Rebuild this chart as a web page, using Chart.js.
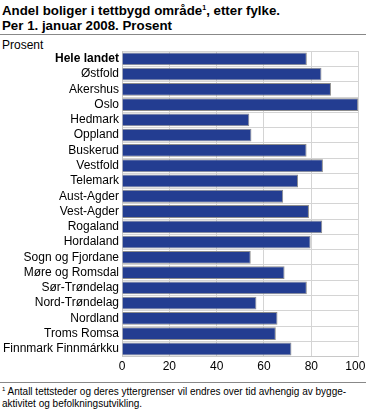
<!DOCTYPE html>
<html>
<head>
<meta charset="utf-8">
<script src="https://cdn.jsdelivr.net/npm/chart.js@4/dist/chart.umd.min.js"></script>
<style>
  body { margin: 0; width: 366px; height: 410px; background: #fff; font-family: "Liberation Sans", Arial, sans-serif; position: relative; overflow: hidden; }
  .title { position: absolute; left: 2px; top: 3px; font-size: 13.3px; font-weight: bold; line-height: 15px; color: #000; }
  .title sup { font-size: 7px; line-height: 0; }
  .rule { position: absolute; left: 0; width: 366px; height: 1px; background: #888; }
  .unit { position: absolute; left: 2px; top: 38px; font-size: 12px; color: #000; }
  .note { position: absolute; left: 2px; top: 386px; font-size: 10px; line-height: 12px; color: #000; }
  .note sup { font-size: 6px; line-height: 0; }
  #wrap { position: absolute; left: 0; top: 41px; width: 375px; height: 336px; }
</style>
</head>
<body>
<div class="title">Andel boliger i tettbygd område<sup>1</sup>, etter fylke.<br>Per 1. januar 2008. Prosent</div>
<div class="rule" style="top:34px"></div>
<div class="unit">Prosent</div>
<div id="wrap"><canvas id="chart"></canvas></div>
<div class="rule" style="top:382px"></div>
<div class="note"><sup>1</sup> Antall tettsteder og deres yttergrenser vil endres over tid avhengig av bygge-<br>aktivitet og befolkningsutvikling.</div>
<script>
const fylker = ['Hele landet', 'Østfold', 'Akershus', 'Oslo', 'Hedmark', 'Oppland', 'Buskerud', 'Vestfold',
  'Telemark', 'Aust-Agder', 'Vest-Agder', 'Rogaland', 'Hordaland', 'Sogn og Fjordane', 'Møre og Romsdal',
  'Sør-Trøndelag', 'Nord-Trøndelag', 'Nordland', 'Troms Romsa', 'Finnmark Finnmárkku'];
const andel = [78.1, 84.3, 88.3, 99.8, 53.8, 54.7, 78.0, 84.9, 74.4, 68.1, 79.0, 84.6, 79.7, 54.4, 68.7,
  78.1, 56.8, 65.7, 65.0, 71.6];
const xTicks = [0, 20, 40, 60, 80, 100];

new Chart(document.getElementById('chart'), {
  type: 'bar',
  data: {
    labels: fylker,
    datasets: [{
      data: andel,
      backgroundColor: '#233d91',
      borderColor: '#8c8c8c',
      borderWidth: 1,
      barPercentage: 0.84,
      categoryPercentage: 1
    }]
  },
  options: {
    indexAxis: 'y',
    responsive: true,
    maintainAspectRatio: false,
    animation: false,
    layout: { padding: 0 },
    plugins: { legend: { display: false }, tooltip: { enabled: false } },
    scales: {
      x: {
        min: 0, max: 100,
        afterBuildTicks: s => { s.ticks = xTicks.map(v => ({ value: v })); },
        grid: { color: '#d4d4d4', drawTicks: false },
        border: { color: '#c8c8c8' },
        ticks: {
          color: '#000', padding: 3, font: { family: 'Liberation Sans', size: 12 },
          // keep the last label inside the window like the original
          callback: v => v === 100 ? '100\u2007' : String(v)
        }
      },
      y: {
        afterFit: s => { s.width = 122; },
        grid: { color: '#d4d4d4', drawTicks: false, offset: true },
        border: { color: '#c8c8c8' },
        ticks: {
          color: '#000', padding: 3, autoSkip: false,
          font: ctx => ({ family: 'Liberation Sans', size: 12, weight: ctx.index === 0 ? 'bold' : 'normal' })
        }
      }
    }
  }
});
</script>
</body>
</html>
